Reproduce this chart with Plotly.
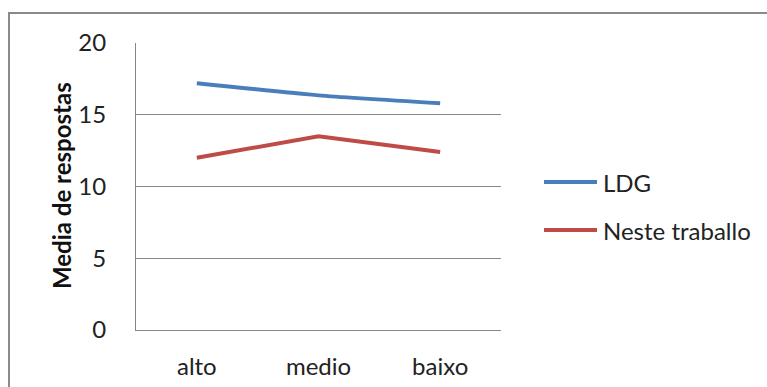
import plotly.graph_objects as go

# Mean responses per level, for each source
categories = ["alto", "medio", "baixo"]
ldg = [17.2, 16.35, 15.8]
neste_traballo = [12.0, 13.5, 12.4]
y_ticks = [0, 5, 10, 15, 20]

series = [
    ("LDG", ldg, "#4A7EBB", dict(shape="spline", smoothing=0.6)),
    ("Neste traballo", neste_traballo, "#BE4B48", dict(shape="linear")),
]

FONT = "Lato"
TEXT = "#222222"
GRID = "#868686"

# Plot-area geometry in pixels, used to place the legend in paper units
W, H = 767, 387
L, R, T, B = 136, 266, 43, 57
PW, PH = W - L - R, H - T - B


def px_x(x):
    return (x - L) / PW


def px_y(y):
    return (H - B - y) / PH


fig = go.Figure()
for name, values, color, shape in series:
    fig.add_trace(go.Scatter(
        x=categories, y=values, name=name, mode="lines",
        line=dict(color=color, width=4, **shape),
        showlegend=False,
    ))

# Legend drawn as long line samples with labels beside them
legend_shapes, legend_notes = [], []
for i, (name, _, color, _) in enumerate(series):
    ly = px_y(182 + 48 * i)
    legend_shapes.append(dict(
        type="line", xref="paper", yref="paper",
        x0=px_x(544), x1=px_x(597), y0=ly, y1=ly,
        line=dict(color=color, width=4),
    ))
    legend_notes.append(dict(
        text=name, xref="paper", yref="paper", x=px_x(601), y=ly,
        xanchor="left", yanchor="middle", showarrow=False,
        font=dict(family=FONT, size=24, color=TEXT),
    ))

fig.update_layout(
    width=W, height=H,
    margin=dict(l=L, r=R, t=T, b=B, autoexpand=False),
    paper_bgcolor="white", plot_bgcolor="white",
    font=dict(family=FONT, size=24, color=TEXT),
    showlegend=False,
    xaxis=dict(
        type="category", range=[-0.5, 2.5], automargin=False,
        showgrid=False, showline=True, linecolor=GRID, linewidth=1,
        zeroline=False, ticks="",
        ticklabelstandoff=15,
        tickfont=dict(family=FONT, size=24, color=TEXT),
    ),
    yaxis=dict(
        range=[0, 20], tickvals=y_ticks, automargin=False,
        showgrid=True, gridcolor=GRID, gridwidth=1,
        showline=True, linecolor=GRID, linewidth=1,
        zeroline=False, ticks="",
        ticklabelstandoff=24,
        tickfont=dict(family=FONT, size=24, color=TEXT),
    ),
    annotations=[dict(
        text="<b>Media de respostas</b>", textangle=-90,
        xref="paper", yref="paper", x=px_x(61), y=px_y(186),
        xanchor="center", yanchor="middle", showarrow=False,
        font=dict(family=FONT, size=24, color="#111111"),
    )] + legend_notes,
    shapes=[dict(
        type="rect", xref="paper", yref="paper",
        x0=px_x(9), x1=px_x(800), y0=px_y(420), y1=px_y(13),
        line=dict(color="#8a8a8a", width=2), layer="below",
    )] + legend_shapes,
)

fig.write_html("out.html")
